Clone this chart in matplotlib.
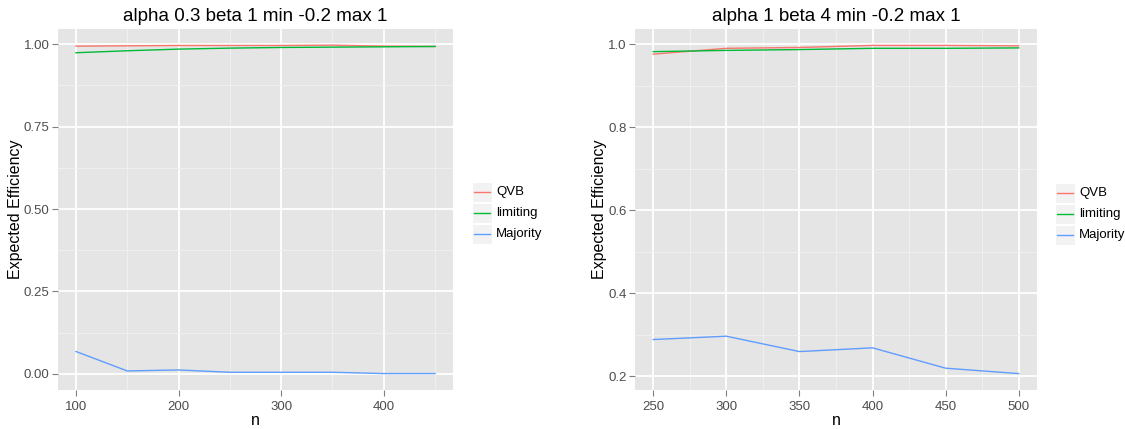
import matplotlib
matplotlib.use("Agg")
import matplotlib.pyplot as plt
from matplotlib.patches import Rectangle
from matplotlib.lines import Line2D
from matplotlib.ticker import MultipleLocator

plt.rcParams['font.family'] = ['Liberation Sans', 'DejaVu Sans']

# left panel: alpha 0.3 beta 1
n_left = [100, 150, 200, 250, 300, 350, 400, 450]
qvb_left = [0.994, 0.995, 0.996, 0.996, 0.996, 0.997, 0.994, 0.993]
lim_left = [0.974, 0.980, 0.985, 0.988, 0.990, 0.991, 0.992, 0.993]
maj_left = [0.068, 0.009, 0.012, 0.005, 0.005, 0.005, 0.001, 0.001]

# right panel: alpha 1 beta 4
n_right = [250, 300, 350, 400, 450, 500]
qvb_right = [0.976, 0.990, 0.992, 0.997, 0.997, 0.996]
lim_right = [0.982, 0.985, 0.987, 0.990, 0.990, 0.991]
maj_right = [0.289, 0.297, 0.260, 0.269, 0.220, 0.207]

series_names = ['QVB', 'limiting', 'Majority']
series_colors = ['#F8766D', '#00BA38', '#619CFF']

W, H = 1125, 429
fig = plt.figure(figsize=(W / 100, H / 100), dpi=100)


def style_axes(ax, title, xmajor, xminor, ymajor, yminor, yfmt):
    ax.set_facecolor('#E5E5E5')
    for s in ax.spines.values():
        s.set_visible(False)
    ax.xaxis.set_major_locator(MultipleLocator(xmajor))
    ax.xaxis.set_minor_locator(MultipleLocator(xminor))
    ax.yaxis.set_major_locator(MultipleLocator(ymajor))
    ax.yaxis.set_minor_locator(MultipleLocator(yminor))
    ax.yaxis.set_major_formatter(plt.FormatStrFormatter(yfmt))
    ax.grid(which='major', color='white', linewidth=1.3)
    ax.grid(which='minor', color='#F2F2F2', linewidth=0.6)
    ax.set_axisbelow(True)
    ax.tick_params(which='major', length=4, width=0.8, color='#7F7F7F',
                   labelcolor='#4D4D4D', labelsize=9.5, pad=2)
    ax.tick_params(axis='x', which='major', pad=4)
    ax.tick_params(which='minor', length=0)
    ax.set_title(title, fontsize=13.5, pad=6)
    ax.set_xlabel('n', fontsize=11.5, labelpad=0)
    ax.set_ylabel('Expected Efficiency', fontsize=11.5, labelpad=0.5)


def draw_legend(x0, y_centers):
    for name, col, yc in zip(series_names, series_colors, y_centers):
        fig.patches.append(Rectangle(((x0) / W, 1 - (yc + 10) / H), 20 / W, 20 / H,
                                     transform=fig.transFigure, facecolor='#F2F2F2',
                                     edgecolor='white', linewidth=0.8))
        fig.lines.append(Line2D([(x0 + 2) / W, (x0 + 18) / W], [1 - yc / H, 1 - yc / H],
                                transform=fig.transFigure, color=col, linewidth=1.0))
        fig.text((x0 + 24) / W, 1 - yc / H, name, fontsize=9.5, va='center', ha='left')


ax1 = fig.add_axes([58 / W, 1 - 390 / H, (453 - 58) / W, (390 - 29) / H])
for ys, col in zip([qvb_left, lim_left, maj_left], series_colors):
    ax1.plot(n_left, ys, color=col, linewidth=1.0)
ax1.set_xlim(82.5, 467.5)
ax1.set_ylim(-0.0488, 1.046)
style_axes(ax1, 'alpha 0.3 beta 1 min -0.2 max 1', 100, 50, 0.25, 0.125, '%.2f')
draw_legend(472, [192, 213, 234])

ax2 = fig.add_axes([635 / W, 1 - 390 / H, (1037 - 635) / W, (390 - 29) / H])
for ys, col in zip([qvb_right, lim_right, maj_right], series_colors):
    ax2.plot(n_right, ys, color=col, linewidth=1.0)
ax2.set_xlim(237.5, 512.5)
ax2.set_ylim(0.1675, 1.0365)
style_axes(ax2, 'alpha 1 beta 4 min -0.2 max 1', 50, 25, 0.2, 0.1, '%.1f')
draw_legend(1055, [193, 214, 235])

fig.savefig('out.png', dpi=100)
